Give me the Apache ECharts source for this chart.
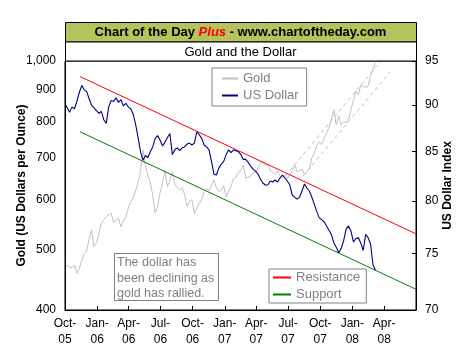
<!DOCTYPE html>
<html><head><meta charset="utf-8">
<script src="https://cdn.jsdelivr.net/npm/echarts@6/dist/echarts.min.js"></script>
<style>html,body{margin:0;padding:0;background:#fff}#c{width:469px;height:363px}</style>
</head><body><div id="c"></div>
<script>
const dates = ['2005-10-03',
'2005-10-07','2005-10-14','2005-10-21','2005-10-28','2005-11-04','2005-11-11','2005-11-18','2005-11-25','2005-12-02','2005-12-09','2005-12-16','2005-12-23','2005-12-30',
'2006-01-06','2006-01-13','2006-01-20','2006-01-27','2006-02-03','2006-02-10','2006-02-17','2006-02-24','2006-03-03','2006-03-10','2006-03-17','2006-03-24','2006-03-31',
'2006-04-07','2006-04-14','2006-04-21','2006-04-28','2006-05-05','2006-05-12','2006-05-19','2006-05-26','2006-06-02','2006-06-09','2006-06-16','2006-06-23','2006-06-30',
'2006-07-07','2006-07-14','2006-07-21','2006-07-28','2006-08-04','2006-08-11','2006-08-18','2006-08-25','2006-09-01','2006-09-08','2006-09-15','2006-09-22','2006-09-29',
'2006-10-06','2006-10-13','2006-10-20','2006-10-27','2006-11-03','2006-11-10','2006-11-17','2006-11-24','2006-12-01','2006-12-08','2006-12-15','2006-12-22','2006-12-29',
'2007-01-05','2007-01-12','2007-01-19','2007-01-26','2007-02-02','2007-02-09','2007-02-16','2007-02-23','2007-03-02','2007-03-09','2007-03-16','2007-03-23','2007-03-30',
'2007-04-06','2007-04-13','2007-04-20','2007-04-27','2007-05-04','2007-05-11','2007-05-18','2007-05-25','2007-06-01','2007-06-08','2007-06-15','2007-06-22','2007-06-29',
'2007-07-06','2007-07-13','2007-07-20','2007-07-27','2007-08-03','2007-08-10','2007-08-17','2007-08-24','2007-08-31','2007-09-07','2007-09-14','2007-09-21','2007-09-28',
'2007-10-05','2007-10-12','2007-10-19','2007-10-26','2007-11-02','2007-11-09','2007-11-16','2007-11-23','2007-11-30','2007-12-07','2007-12-14','2007-12-21','2007-12-28',
'2008-01-04','2008-01-11','2008-01-18','2008-01-25','2008-02-01','2008-02-08','2008-02-15','2008-02-22','2008-02-29','2008-03-07'];

const gold = [473,
470,468,467,472,458,466,480,492,497,520,537,505,513,
530,550,558,564,568,571,553,556,560,543,555,563,582,
595,605,620,640,665,720,680,655,640,610,572,585,615,
640,668,630,645,665,635,628,622,628,612,585,598,600,
570,582,592,600,620,625,620,633,645,628,618,622,632,
606,620,630,648,652,664,668,682,650,652,655,662,663,
675,686,690,680,684,668,664,658,667,655,652,656,648,
657,666,682,665,668,672,658,665,673,700,712,733,743,
735,752,766,784,806,836,790,818,790,800,796,808,835,
865,895,882,915,910,908,912,945,972,992];

const usDollar = [90.0,
89.9,89.2,89.8,89.6,90.4,91.4,92.2,91.7,91.5,90.7,90.0,89.7,89.4,
89.1,89.3,88.4,88.0,89.8,90.5,90.4,90.8,90.3,90.6,89.9,90.2,89.8,
89.6,89.0,87.9,86.5,85.0,84.1,84.6,84.4,85.0,85.5,86.4,86.7,86.2,
85.6,86.0,86.5,86.9,84.7,85.2,85.4,85.1,85.4,85.5,85.8,85.9,85.7,
85.9,87.1,86.8,86.4,85.7,85.5,85.2,84.0,82.7,82.6,83.3,83.7,84.0,
84.7,85.2,84.9,85.2,85.1,85.0,84.7,84.2,84.2,83.9,83.5,83.2,83.0,
82.7,82.2,81.8,81.6,81.6,82.0,81.9,82.1,81.9,82.3,82.6,82.3,82.0,
81.6,80.6,80.4,80.2,80.4,81.0,81.7,81.3,81.0,80.4,79.7,79.0,78.4,
78.2,78.0,77.6,77.2,76.8,76.0,75.6,75.1,75.5,76.2,77.3,77.6,77.1,
76.1,76.4,76.5,76.0,75.3,76.8,76.5,75.9,74.0,73.5];

const resistance = [['2005-11-13', 93.2], ['2008-07-01', 76.85]];
const support = [['2005-11-13', 87.1], ['2008-07-01', 71.8]];
const goldUpper = [['2007-06-23', 655], ['2008-03-20', 996]];
const goldLower = [['2007-08-13', 655], ['2008-04-18', 960]];

const xMin = '2005-10-01', xMax = '2008-07-01';
const xTickDates = ['2005-10-01','2006-01-01','2006-04-01','2006-07-01','2006-10-01','2007-01-01','2007-04-01','2007-07-01','2007-10-01','2008-01-01','2008-04-01'];
const xTickLabels = ['Oct-05','Jan-06','Apr-06','Jul-06','Oct-06','Jan-07','Apr-07','Jul-07','Oct-07','Jan-08','Apr-08'];
const goldTicks = [400,500,600,700,800,900,1000];
const goldTickLabels = ['400','500','600','700','800','900','1,000'];
const usdTicks = [70,75,80,85,90,95];
const usdTickLabels = ['70','75','80','85','90','95'];

const ts = s => Date.parse(s + 'T00:00:00Z');
const zip = (xs, ys) => xs.map((x, i) => [ts(x), ys[i]]);
const pairs = arr => arr.map(p => [ts(p[0]), p[1]]);
const xTickTs = xTickDates.map(ts);
const FONT = 'Liberation Sans, Arial, sans-serif';

function xLabel(v) {
  for (let i = 0; i < xTickTs.length; i++) {
    if (Math.abs(xTickTs[i] - v) < 43200000) {
      const s = xTickLabels[i].split('-');
      return s[0] + '-\n' + s[1];
    }
  }
  return '';
}
function fromList(ticks, labels) {
  return v => { for (let i = 0; i < ticks.length; i++) if (Math.abs(ticks[i] - v) < 1e-6) return labels[i]; return ''; };
}

const chart = echarts.init(document.getElementById('c'), null, {renderer: 'canvas'});
chart.setOption({
  animation: false,
  textStyle: {fontFamily: FONT},
  grid: {left: 65, right: 53, top: 61, bottom: 53, show: true, borderColor: '#000', borderWidth: 1, backgroundColor: 'transparent', containLabel: false, outerBoundsMode: 'none'},
  xAxis: {
    type: 'value', min: ts(xMin), max: ts(xMax), scale: true,
    axisLine: {show: true, lineStyle: {color: '#000', width: 1}},
    axisTick: {show: true, inside: true, length: 4, lineStyle: {color: '#000'}, customValues: xTickTs},
    axisLabel: {customValues: xTickTs, formatter: xLabel, color: '#000', fontSize: 12, lineHeight: 16, margin: 6, fontFamily: FONT},
    splitLine: {show: false}
  },
  yAxis: [
    {
      type: 'log', logBase: 10, min: 400, max: 1000, position: 'left',
      name: 'Gold (US Dollars per Ounce)', nameLocation: 'middle', nameGap: 37, nameRotate: 90, nameMoveOverlap: false,
      nameTextStyle: {fontWeight: 'bold', fontSize: 12, color: '#000', fontFamily: FONT},
      axisLine: {show: true, lineStyle: {color: '#000'}},
      axisTick: {show: false},
      axisLabel: {customValues: goldTicks, formatter: fromList(goldTicks, goldTickLabels), color: '#000', fontSize: 12, margin: 9, fontFamily: FONT},
      splitLine: {show: false}
    },
    {
      type: 'log', logBase: 10, min: 70, max: 95, position: 'right',
      name: 'US Dollar Index', nameLocation: 'middle', nameGap: 26, nameRotate: 90, nameMoveOverlap: false,
      nameTextStyle: {fontWeight: 'bold', fontSize: 12, color: '#000', fontFamily: FONT},
      axisLine: {show: true, lineStyle: {color: '#000'}},
      axisTick: {show: true, inside: true, length: 4, lineStyle: {color: '#000'}, customValues: usdTicks},
      axisLabel: {customValues: usdTicks, formatter: fromList(usdTicks, usdTickLabels), color: '#000', fontSize: 12, margin: 9, fontFamily: FONT},
      splitLine: {show: false}
    }
  ],
  legend: [
    {
      data: ['Gold', 'US Dollar'], orient: 'vertical', left: 212, top: 68,
      padding: [3, 8, 3, 10], itemGap: 2, itemWidth: 16, itemHeight: 2, icon: 'rect',
      borderColor: '#808080', borderWidth: 1, backgroundColor: '#fff', selectedMode: false,
      textStyle: {color: '#808080', fontSize: 13, lineHeight: 15, fontFamily: FONT}
    },
    {
      data: ['Resistance', 'Support'], orient: 'vertical', left: 269, top: 269,
      padding: [1, 6, 1, 4], itemGap: 2, itemWidth: 18, itemHeight: 2, icon: 'rect',
      borderColor: '#808080', borderWidth: 1, backgroundColor: '#fff', selectedMode: false,
      textStyle: {color: '#808080', fontSize: 13, lineHeight: 15, fontFamily: FONT}
    }
  ],
  graphic: [
    {type: 'rect', z: 50, shape: {x: 65.5, y: 22.5, width: 351, height: 19.5}, style: {fill: '#b5c25d', stroke: '#000', lineWidth: 1}},
    {type: 'rect', z: 50, shape: {x: 65.5, y: 42, width: 351, height: 19}, style: {fill: '#fff', stroke: '#000', lineWidth: 1}},
    {type: 'text', z: 51, x: 240.5, y: 32.5, style: {
      text: 'Chart of the Day {p|Plus} - www.chartoftheday.com', align: 'center', verticalAlign: 'middle',
      font: 'bold 13px ' + FONT, fill: '#000',
      rich: {p: {font: 'italic bold 13px ' + FONT, fill: '#ff0000'}}
    }},
    {type: 'text', z: 51, x: 240.5, y: 52, style: {text: 'Gold and the Dollar', align: 'center', verticalAlign: 'middle', font: '13px ' + FONT, fill: '#000'}},
    {type: 'rect', z: 50, shape: {x: 114.5, y: 253.5, width: 104, height: 47}, style: {fill: '#fff', stroke: '#808080', lineWidth: 1}},
    {type: 'text', z: 51, x: 117, y: 255, style: {text: 'The dollar has\nbeen declining as\ngold has rallied.', font: '12.5px ' + FONT, lineHeight: 15.5, fill: '#808080'}}
  ],
  series: [
    {name: 'Gold', type: 'line', yAxisIndex: 0, data: zip(dates, gold), symbol: 'none', z: 2, lineStyle: {color: '#c0c0c0', width: 1}, itemStyle: {color: '#c0c0c0'}},
    {name: 'Gold Upper', type: 'line', yAxisIndex: 0, data: pairs(goldUpper), symbol: 'none', z: 2, lineStyle: {color: '#c0c0c0', width: 1, type: [4, 3]}},
    {name: 'Gold Lower', type: 'line', yAxisIndex: 0, data: pairs(goldLower), symbol: 'none', z: 2, lineStyle: {color: '#c0c0c0', width: 1, type: [4, 3]}},
    {name: 'Resistance', type: 'line', yAxisIndex: 1, data: pairs(resistance), symbol: 'none', z: 3, lineStyle: {color: '#ff0000', width: 1}, itemStyle: {color: '#ff0000'}},
    {name: 'Support', type: 'line', yAxisIndex: 1, data: pairs(support), symbol: 'none', z: 3, lineStyle: {color: '#008000', width: 1}, itemStyle: {color: '#008000'}},
    {name: 'US Dollar', type: 'line', yAxisIndex: 1, data: zip(dates, usDollar), symbol: 'none', z: 4, lineStyle: {color: '#000080', width: 1.1}, itemStyle: {color: '#000080'}}
  ]
});
</script></body></html>
